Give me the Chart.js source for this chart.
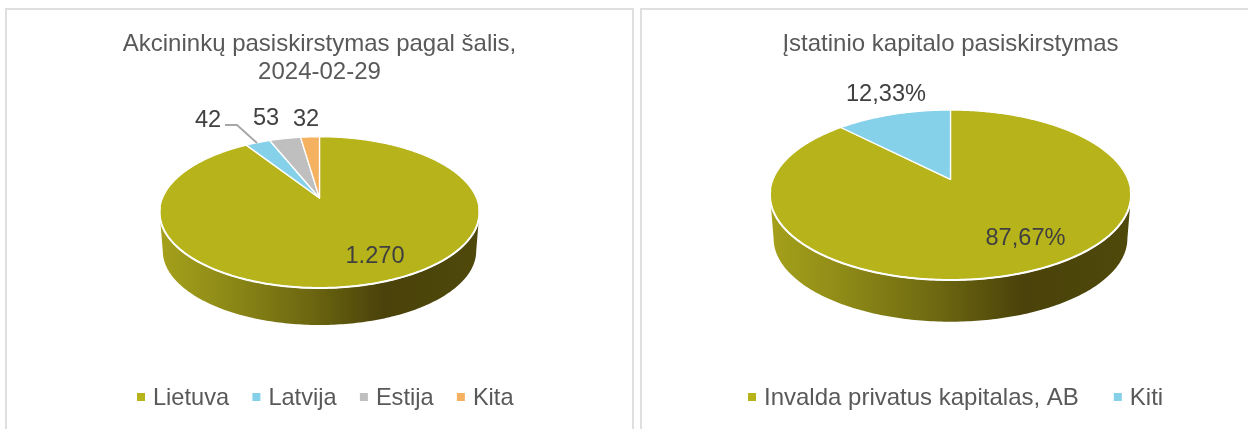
<!DOCTYPE html>
<html><head><meta charset="utf-8">
<script src="https://cdn.jsdelivr.net/npm/chart.js@4/dist/chart.umd.js"></script>
<style>
html,body{margin:0;padding:0;background:#fff;width:1248px;height:429px;overflow:hidden}
.panel{position:absolute;top:8px;height:440px;border:2px solid #dfdfdf;box-sizing:border-box}
canvas{position:absolute;top:0}
</style></head><body>
<div class="panel" style="left:5px;width:629px"></div>
<div class="panel" style="left:640px;width:640px"></div>
<canvas id="c1" width="625" height="429" style="left:7px"></canvas>
<canvas id="c2" width="617" height="429" style="left:642px"></canvas>
<script>
const FONT='"Liberation Sans", Arial, sans-serif';
const titleLeft=['Akcininkų pasiskirstymas pagal šalis,','2024-02-29'];
const categoriesLeft=['Lietuva','Latvija','Estija','Kita'];
const valuesLeft=[1270,42,53,32];
const labelsLeft=['1.270','42','53','32'];
const colorsLeft=['#b7b31a','#85d1ea','#bfbfbf','#f4b160'];
const titleRight='Įstatinio kapitalo pasiskirstymas';
const categoriesRight=['Invalda privatus kapitalas, AB','Kiti'];
const valuesRight=[87.67,12.33];
const labelsRight=['87,67%','12,33%'];
const colorsRight=['#b7b31a','#85d1ea'];

function proj(p,theta,bottom){
  const u=Math.cos(theta),v=Math.sin(theta),den=1+p.c*v;
  const X=p.d*u/den,Y=p.a*v/den;
  return bottom?[p.cx+p.s*X,p.cy+p.depth+p.s*Y]:[p.cx+X,p.cy+Y];
}
const pie3d={
  id:'pie3d',
  beforeDatasetDraw(chart,args){
    const p=chart.options.plugins.pie3d,ctx=chart.ctx,meta=chart.getDatasetMeta(0);
    const t0=Math.atan2(-p.c,Math.sqrt(1-p.c*p.c)),t1=Math.PI-t0;
    ctx.save();
    ctx.beginPath();
    for(let i=0;i<=180;i++){const q=proj(p,t0+(t1-t0)*i/180);i?ctx.lineTo(q[0],q[1]):ctx.moveTo(q[0],q[1]);}
    for(let i=180;i>=0;i--){const q=proj(p,t0+(t1-t0)*i/180,true);ctx.lineTo(q[0],q[1]);}
    ctx.closePath();
    const L=p.cx-p.d*1.02,W=p.d*2.04;
    const g=ctx.createLinearGradient(L,0,L+W,0);
    p.side.forEach(s=>g.addColorStop(s[0],s[1]));
    ctx.fillStyle=g;ctx.fill();
    meta.data.forEach((el,i)=>{
      const a=el.startAngle,b=el.endAngle,n=Math.max(2,Math.ceil((b-a)*90));
      ctx.beginPath();ctx.moveTo(p.cx,p.cy);
      for(let k=0;k<=n;k++){const q=proj(p,a+(b-a)*k/n);ctx.lineTo(q[0],q[1]);}
      ctx.closePath();
      ctx.fillStyle=chart.data.datasets[0].backgroundColor[i];ctx.fill();
      ctx.lineWidth=1.3;ctx.strokeStyle='#fff';ctx.lineJoin='round';ctx.stroke();
    });
    ctx.beginPath();
    for(let i=0;i<=180;i++){const q=proj(p,0.12+(Math.PI-0.24)*i/180);i?ctx.lineTo(q[0],q[1]):ctx.moveTo(q[0],q[1]);}
    ctx.lineWidth=2;ctx.strokeStyle='#fff';ctx.stroke();
    ctx.restore();
    return false;
  },
  afterDatasetsDraw(chart){
    const p=chart.options.plugins.pie3d,ctx=chart.ctx;
    ctx.save();
    if(p.leader){
      ctx.beginPath();p.leader.forEach((q,i)=>i?ctx.lineTo(q[0],q[1]):ctx.moveTo(q[0],q[1]));
      ctx.strokeStyle='#a6a6a6';ctx.lineWidth=1.8;ctx.stroke();
    }
    ctx.fillStyle='#404040';ctx.font='23.6px '+FONT;ctx.textAlign='center';ctx.textBaseline='alphabetic';
    p.texts.forEach((t,i)=>ctx.fillText(t,p.textPos[i][0],p.textPos[i][1]));
    let x=p.legendX;
    ctx.textAlign='left';ctx.font=p.legendSize+'px '+FONT;
    chart.data.labels.forEach((l,i)=>{
      ctx.fillStyle=chart.data.datasets[0].backgroundColor[i];
      ctx.fillRect(x,p.legendY-12,8,8);
      ctx.fillStyle='#595959';
      ctx.fillText(l,x+16,p.legendY);
      x+=16+ctx.measureText(l).width+p.legendGap;
    });
    ctx.restore();
  }
};
const sideStops=[[0,'#a5a11b'],[0.2,'#8f8b17'],[0.45,'#6f6a11'],[0.7,'#4a420a'],[1,'#4f490b']];
function make(id,labels,values,colors,title,opt){
  new Chart(document.getElementById(id),{
    type:'pie',
    data:{labels:labels,datasets:[{data:values,backgroundColor:colors,borderColor:'#fff',borderWidth:1}]},
    plugins:[pie3d],
    options:{
      responsive:false,animation:false,events:[],
      plugins:{
        legend:{display:false},tooltip:{enabled:false},
        title:{display:true,text:title,color:'#595959',font:{family:FONT,size:24,weight:'normal',lineHeight:1.19},padding:{top:30,bottom:0}},
        pie3d:Object.assign({side:sideStops},opt)
      }
    }
  });
}
make('c1',categoriesLeft,valuesLeft,colorsLeft,titleLeft,{
  cx:312.5,cy:198,a:72.9,c:-0.19,d:157,s:0.98,depth:38.8,
  texts:labelsLeft,textPos:[[368,263],[201,127],[259,125],[299,126]],
  leader:[[218,125],[230,125],[250,143]],legendX:130,legendY:405,legendGap:23.3,legendSize:23.6
});
make('c2',categoriesRight,valuesRight,colorsRight,titleRight,{
  cx:308.5,cy:179.3,a:82.1,c:-0.1847,d:177.4,s:0.98,depth:43.7,
  texts:labelsRight,textPos:[[383.5,245],[244,101]],
  legendX:106,legendY:405,legendGap:35,legendSize:24
});
</script>
</body></html>
